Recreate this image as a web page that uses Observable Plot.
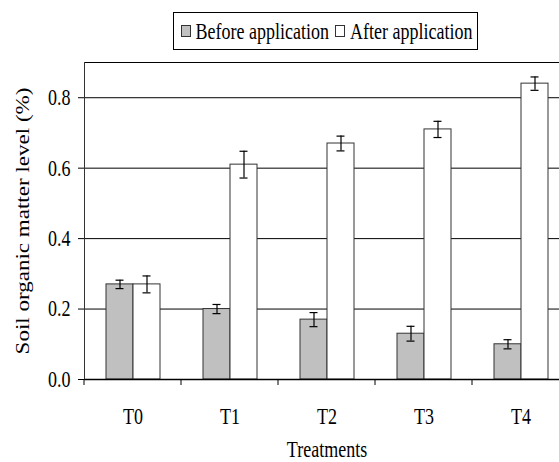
<!DOCTYPE html>
<html><head><meta charset="utf-8">
<script src="https://cdn.jsdelivr.net/npm/d3@7"></script>
<script src="https://cdn.jsdelivr.net/npm/@observablehq/plot@0.6"></script>
<style>
body{margin:0;overflow:hidden;background:#fff;}
#wrap{position:relative;width:559px;height:462px;overflow:hidden;font-family:"Liberation Serif","Times New Roman",Times,serif;}
#chart svg{max-width:none !important;display:block;}
#chart svg text{font-family:"Liberation Serif","Times New Roman",Times,serif;}
#legend{position:absolute;left:173px;top:12px;width:303px;height:36px;border:1px solid #000;display:flex;align-items:center;justify-content:center;font-size:18px;white-space:nowrap;background:#fff;color:#000}
#legend .lt{display:inline-block;transform:scaleY(1.28);}
.sw{display:inline-block;width:8px;height:10px;border:1px solid #333;margin-right:5px;margin-left:2px}
</style></head><body><div id="wrap"><div id="chart"></div><div id="legend"></div></div>
<script>
const treatments = ["T0","T1","T2","T3","T4"];
const series = ["Before application","After application"];
const beforeValues = [0.27,0.20,0.17,0.13,0.10];
const beforeErrors = [0.012,0.013,0.020,0.021,0.013];
const afterValues = [0.27,0.61,0.67,0.71,0.84];
const afterErrors = [0.024,0.038,0.021,0.023,0.019];
const yTicks = [0,0.2,0.4,0.6,0.8];
const colors = ["#c0c0c0","#ffffff"];

const data = treatments.flatMap((t,i)=>[
  {treatment:t, series:series[0], value:beforeValues[i], err:beforeErrors[i]},
  {treatment:t, series:series[1], value:afterValues[i], err:afterErrors[i]}
]);

const plot = Plot.plot({
  width: 580, height: 462,
  marginLeft: 83, marginRight: 10, marginTop: 62, marginBottom: 83,
  style: {fontFamily: "'Liberation Serif', 'Times New Roman', serif", fontSize: "18px", background: "#fff", color: "#000", maxWidth: "none"},
  fx: {domain: treatments, padding: 0},
  x: {domain: series, paddingInner: 0, paddingOuter: 0.74, axis: null},
  y: {domain: [0, 0.9]},
  color: {domain: series, range: colors},
  marks: [
    Plot.gridY(yTicks.slice(1), {stroke: "#000", strokeOpacity: 1}),
    Plot.ruleY([0.9], {stroke: "#000"}),
    Plot.barY(data, {fx: "treatment", x: "series", y: "value", fill: "series", stroke: "#333", strokeWidth: 1}),
    Plot.ruleX(data, {fx: "treatment", x: "series", y1: d => d.value - d.err, y2: d => d.value + d.err, stroke: "#000", strokeWidth: 1.2}),
    Plot.tickY(data, {fx: "treatment", x: "series", y: d => d.value + d.err, insetLeft: 9.5, insetRight: 9.5, stroke: "#000", strokeWidth: 1.2}),
    Plot.tickY(data, {fx: "treatment", x: "series", y: d => d.value - d.err, insetLeft: 9.5, insetRight: 9.5, stroke: "#000", strokeWidth: 1.2}),
    Plot.ruleY([0], {stroke: "#000", strokeWidth: 1.6}),
    Plot.frame({anchor: "left", facetAnchor: "left", stroke: "#333"}),
    Plot.axisY(yTicks, {anchor: "left", tickSize: 6, tickPadding: 8, tickFormat: d3.format(".1f"),
      label: "Soil organic matter level (%)", labelAnchor: "center", labelArrow: "none", labelOffset: 68}),
    Plot.axisFx({anchor: "bottom", tickSize: 0, tickPadding: 28, label: "Treatments", labelAnchor: "center", labelArrow: "none", labelOffset: 77})
  ]
});
document.getElementById("chart").appendChild(plot);

// boundary tick marks on the category axis (Excel style), from the fx scale
const fx = plot.scale("fx"), ys = plot.scale("y");
const bounds = treatments.map(t => fx.apply(t)).concat([fx.apply(treatments[treatments.length-1]) + fx.bandwidth]);
const y0 = ys.apply(0);
d3.select(plot).append("g").attr("stroke", "#000")
  .selectAll("line").data(bounds).join("line")
  .attr("x1", d => d).attr("x2", d => d).attr("y1", y0).attr("y2", y0 + 6);

// the reference text is drawn tall and narrow: stretch it along its height
const isNum = v => v != null && /^-?[\d.]+$/.test(v.trim());
plot.querySelectorAll("text").forEach(t => {
  let tr = t.getAttribute("transform") || "";
  const ax = t.getAttribute("x"), ay = t.getAttribute("y");
  let tx = 0, ty = 0;
  if (isNum(ax)) { tx = +ax; t.removeAttribute("x"); }
  if (isNum(ay)) { ty = +ay; t.removeAttribute("y"); }
  if (tx || ty) tr = `${tr} translate(${tx},${ty})`;
  const rot = /rotate\(/.test(tr);
  t.setAttribute("transform", `${tr} ${rot ? "scale(1.28,1)" : "scale(1,1.28)"}`);
});

// legend
const lg = d3.select("#legend");
series.forEach((s, i) => {
  lg.append("span").attr("class", "sw").style("background", colors[i]);
  lg.append("span").attr("class", "lt").text(s).style("margin-right", i === 0 ? "4px" : "0");
});
</script></body></html>
